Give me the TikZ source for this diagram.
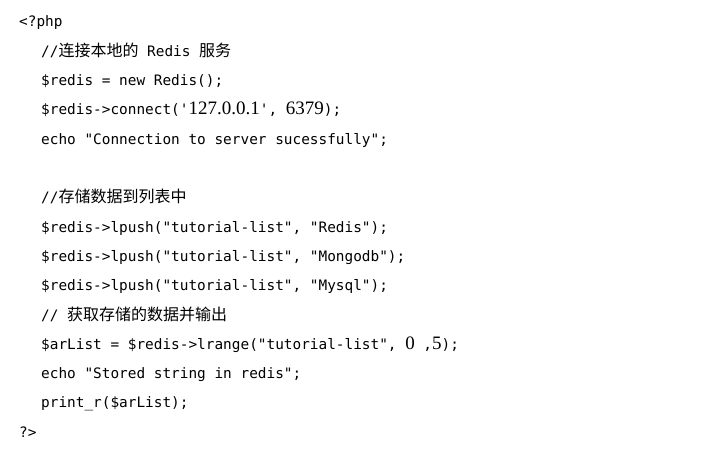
\documentclass[tikz,border=0pt]{standalone}
\usepackage{fontspec}
\setmonofont{DejaVu Sans Mono}
\newfontfamily\cjkfont{Noto Sans CJK SC}
\newfontfamily\digitfont{Liberation Serif}
\newcommand\zh[1]{{\cjkfont\fontsize{16}{16}\selectfont #1}}
\newcommand\dg[1]{{\digitfont\fontsize{19}{19}\selectfont #1}}
\tikzset{
    %one line of the listing
    codeline/.style={
      anchor=base west,
      inner sep=0pt,
      text=black,
      font=\ttfamily\fontsize{14.4}{16}\selectfont},
}

\begin{document}
\begin{tikzpicture}[x=1pt,y=-1pt]
    \useasboundingbox (0,0) rectangle (702,457);
    \node (open) [codeline] at (19,27)
          {<?php};
    \node (cmtconn) [codeline] at (41,56.3)
          {//\zh{连接本地的} Redis \zh{服务}};
    \node (newredis) [codeline] at (41,85.6)
          {\$redis = new Redis();};
    \node (connect) [codeline] at (41,114.9)
          {\$redis->connect('\dg{127.0.0.1}', \dg{6379});};
    \node (echoconn) [codeline] at (41,144.2)
          {echo "Connection to server sucessfully";};
    % list part
    \node (cmtstore) [codeline] at (41,202.8)
          {//\zh{存储数据到列表中}};
    \node (push1) [codeline] at (41,232.1)
          {\$redis->lpush("tutorial-list", "Redis");};
    \node (push2) [codeline] at (41,261.4)
          {\$redis->lpush("tutorial-list", "Mongodb");};
    \node (push3) [codeline] at (41,290.7)
          {\$redis->lpush("tutorial-list", "Mysql");};
    \node (cmtget) [codeline] at (41,320)
          {// \zh{获取存储的数据并输出}};
    \node (lrange) [codeline] at (41,349.3)
          {\$arList = \$redis->lrange("tutorial-list", \dg{0} ,\dg{5});};
    \node (echostored) [codeline] at (41,378.6)
          {echo "Stored string in redis";};
    \node (printr) [codeline] at (41,407.9)
          {print\_r(\$arList);};
    \node (close) [codeline] at (19,437.2)
          {?>};
\end{tikzpicture}
\end{document}
